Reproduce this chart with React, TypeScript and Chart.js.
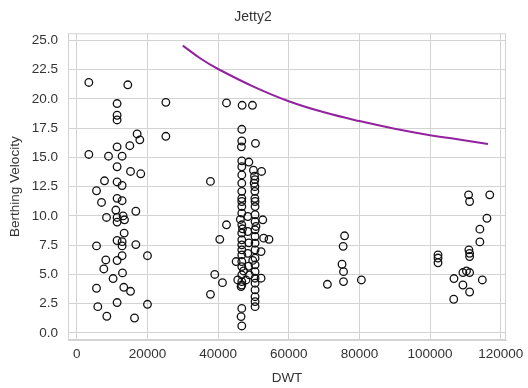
import React, { useEffect, useRef } from "react";
import { Chart, registerables } from "chart.js";

Chart.register(...registerables);

const title = "Jetty2";
const xLabel = "DWT";
const yLabel = "Berthing Velocity";

// Observed berthing events: DWT and velocity
const dwt: number[] = [
  3400, 14430, 11400, 11400, 11400, 25200, 25200, 17070, 17830, 15000, 11400, 12820, 8970, 3400,
  11400, 15200, 18100, 7830, 11400, 12820, 5570, 6990, 11400, 12820, 16700, 11040, 8400, 11400,
  13100, 11400, 13500, 13400, 11400, 12820, 12820, 5570, 16700, 20000, 12820, 8200, 11400, 7640,
  12930, 10270, 5570, 13300, 15200, 5940, 11400, 20000, 8490, 16330,
  42370, 46800, 49720, 46700, 46700, 50570, 46600, 46700, 48700, 50000, 52300, 46700, 46700, 50300,
  50400, 46700, 50400, 37830, 46700, 50400, 46700, 50400, 46700, 46700, 46700, 46700, 46700, 46700,
  46700, 46700, 46700, 46700, 46700, 46700, 46700, 46700, 45100, 45560, 46500, 50460, 50460, 50460,
  50460, 50460, 50460, 50460, 50460, 50460, 50460, 50460, 50460, 50460, 50460, 50460, 50460, 50460,
  52640, 54400, 52900, 52160, 48400, 48870, 47900, 52160, 48400, 48400, 46500, 46700, 46700, 42370,
  40470, 39050, 41230, 37830, 48700, 48600, 46300, 46900, 50200, 50700, 47200, 49800,
  75800, 75400, 75080, 75500, 75500, 70940, 80560, 110900, 111200, 116900, 116100, 114100, 114100,
  111000, 111200, 111200, 102250, 102250, 102250, 109300, 111200, 110300, 106770, 114800, 109300,
  111200, 106700,
];
const velocity: number[] = [
  21.4, 21.2, 19.6, 18.6, 18.2, 19.7, 16.8, 17.0, 16.5, 16.0, 15.9, 15.1, 15.1, 15.25,
  14.2, 13.8, 13.6, 13.0, 12.9, 12.6, 12.15, 11.15, 11.5, 11.3, 10.4, 10.5, 9.87, 9.87,
  10.0, 9.47, 9.67, 8.53, 7.9, 7.8, 7.44, 7.44, 7.55, 6.6, 6.6, 6.24, 6.19, 5.47,
  5.13, 4.65, 3.82, 3.9, 3.56, 2.25, 2.6, 2.45, 1.43, 1.28,
  19.65, 19.45, 19.45, 17.4, 16.4, 16.2, 15.9, 14.7, 14.6, 13.9, 13.8, 14.2, 13.5, 13.4,
  13.1, 12.8, 12.5, 12.95, 12.1, 12.1, 11.5, 11.5, 11.23, 10.8, 10.24, 9.24, 8.53, 7.96,
  7.53, 7.1, 6.67, 6.1, 5.67, 4.96, 4.39, 4.1, 6.1, 4.53, 3.96, 11.23, 10.8, 10.1,
  9.52, 8.81, 8.24, 7.67, 7.1, 6.39, 5.82, 5.24, 4.68, 4.25, 3.68, 3.1, 2.68, 2.25,
  9.67, 8.0, 8.1, 6.95, 6.8, 4.96, 4.53, 4.68, 8.67, 9.95, 1.4, 2.1, 0.6, 9.24,
  8.0, 5.0, 4.3, 3.3, 7.7, 5.7, 9.7, 8.9, 12.8, 9.1, 5.3, 6.2,
  8.3, 7.4, 5.87, 5.24, 4.39, 4.16, 4.53, 11.8, 11.23, 11.8, 9.8, 8.87, 7.78,
  7.1, 6.8, 6.53, 6.67, 6.4, 6.0, 5.16, 5.16, 5.3, 4.65, 4.53, 4.1,
  3.5, 2.88,
];

// Design curve
const curveDwt: number[] = [30000, 35000, 40000, 50000, 60000, 70000, 80000, 90000, 100000, 110000, 116400];
const curveVel: number[] = [24.55, 23.45, 22.55, 21.05, 19.8, 18.85, 18.1, 17.45, 16.9, 16.45, 16.15];

const xTicks: number[] = [0, 20000, 40000, 60000, 80000, 100000, 120000];
const yTicks: number[] = [0, 2.5, 5, 7.5, 10, 12.5, 15, 17.5, 20, 22.5, 25];

const FONT = 'Arial, "Liberation Sans", sans-serif';
const GRID = "#d3d3d3";
const TEXT = "#333333";

export default function App() {
  const ref = useRef<HTMLCanvasElement | null>(null);
  useEffect(() => {
    document.body.style.margin = "0";
    if (!ref.current) return;
    const frame = {
      id: "frame",
      beforeDatasetsDraw(chart: any) {
        const { ctx, chartArea: a } = chart;
        ctx.save();
        ctx.strokeStyle = GRID;
        ctx.lineWidth = 1;
        ctx.strokeRect(a.left + 0.5, a.top + 0.5, a.right - a.left - 1, a.bottom - a.top - 1);
        ctx.restore();
      },
    };
    const chart = new Chart(ref.current, {
      type: "scatter",
      data: {
        datasets: [
          {
            type: "line",
            data: curveDwt.map((x, i) => ({ x, y: curveVel[i] })),
            borderColor: "#93229f",
            borderWidth: 2,
            pointRadius: 0,
            tension: 0.4,
            fill: false,
          } as any,
          {
            data: dwt.map((x, i) => ({ x, y: velocity[i] })),
            backgroundColor: "rgba(255,255,255,0)",
            borderColor: "#111",
            borderWidth: 1.3,
            pointRadius: 3.8,
          },
        ],
      },
      options: {
        responsive: false,
        animation: false,
        layout: { padding: { left: 0, right: 22, top: 0, bottom: 0 } },
        plugins: {
          legend: { display: false },
          tooltip: { enabled: false },
          title: {
            display: true,
            text: title,
            color: TEXT,
            font: { family: FONT, size: 14, weight: "normal" },
            padding: { top: 9, bottom: 7.5 },
          },
        },
        scales: {
          x: {
            type: "linear",
            min: -2500,
            max: 121500,
            afterBuildTicks: (s: any) => {
              s.ticks = xTicks.map((v) => ({ value: v }));
            },
            afterFit: (s: any) => {
              s.height = 48;
              s.paddingLeft = 0;
              s.paddingRight = 0;
            },
            ticks: {
              color: TEXT,
              font: { family: FONT, size: 13.5 },
              padding: 6,
              maxRotation: 0,
              autoSkip: false,
              callback: (v: any) => String(v),
            },
            grid: { color: GRID, drawTicks: false, lineWidth: 1 },
            border: { color: GRID },
            title: {
              display: true,
              text: xLabel,
              color: TEXT,
              font: { family: FONT, size: 13.5 },
              padding: { top: 0, bottom: 2 },
            },
          },
          y: {
            type: "linear",
            min: -0.6,
            max: 25.6,
            afterBuildTicks: (s: any) => {
              s.ticks = yTicks.map((v) => ({ value: v }));
            },
            afterFit: (s: any) => {
              s.width = 68;
              s.paddingTop = 0;
              s.paddingBottom = 0;
            },
            ticks: {
              color: TEXT,
              font: { family: FONT, size: 13.5 },
              padding: 10,
              autoSkip: false,
              callback: (v: any) => Number(v).toFixed(1),
            },
            grid: { color: GRID, drawTicks: false, lineWidth: 1 },
            border: { color: GRID },
            title: {
              display: true,
              text: yLabel,
              color: TEXT,
              font: { family: FONT, size: 13.5 },
              padding: { top: 7, bottom: 0 },
            },
          },
        },
      },
      plugins: [frame],
    });
    return () => chart.destroy();
  }, []);
  return (
    <div style={{ position: "absolute", left: 0, top: 0, width: 528, height: 388, background: "#fff" }}>
      <canvas ref={ref} width={528} height={388} />
    </div>
  );
}
